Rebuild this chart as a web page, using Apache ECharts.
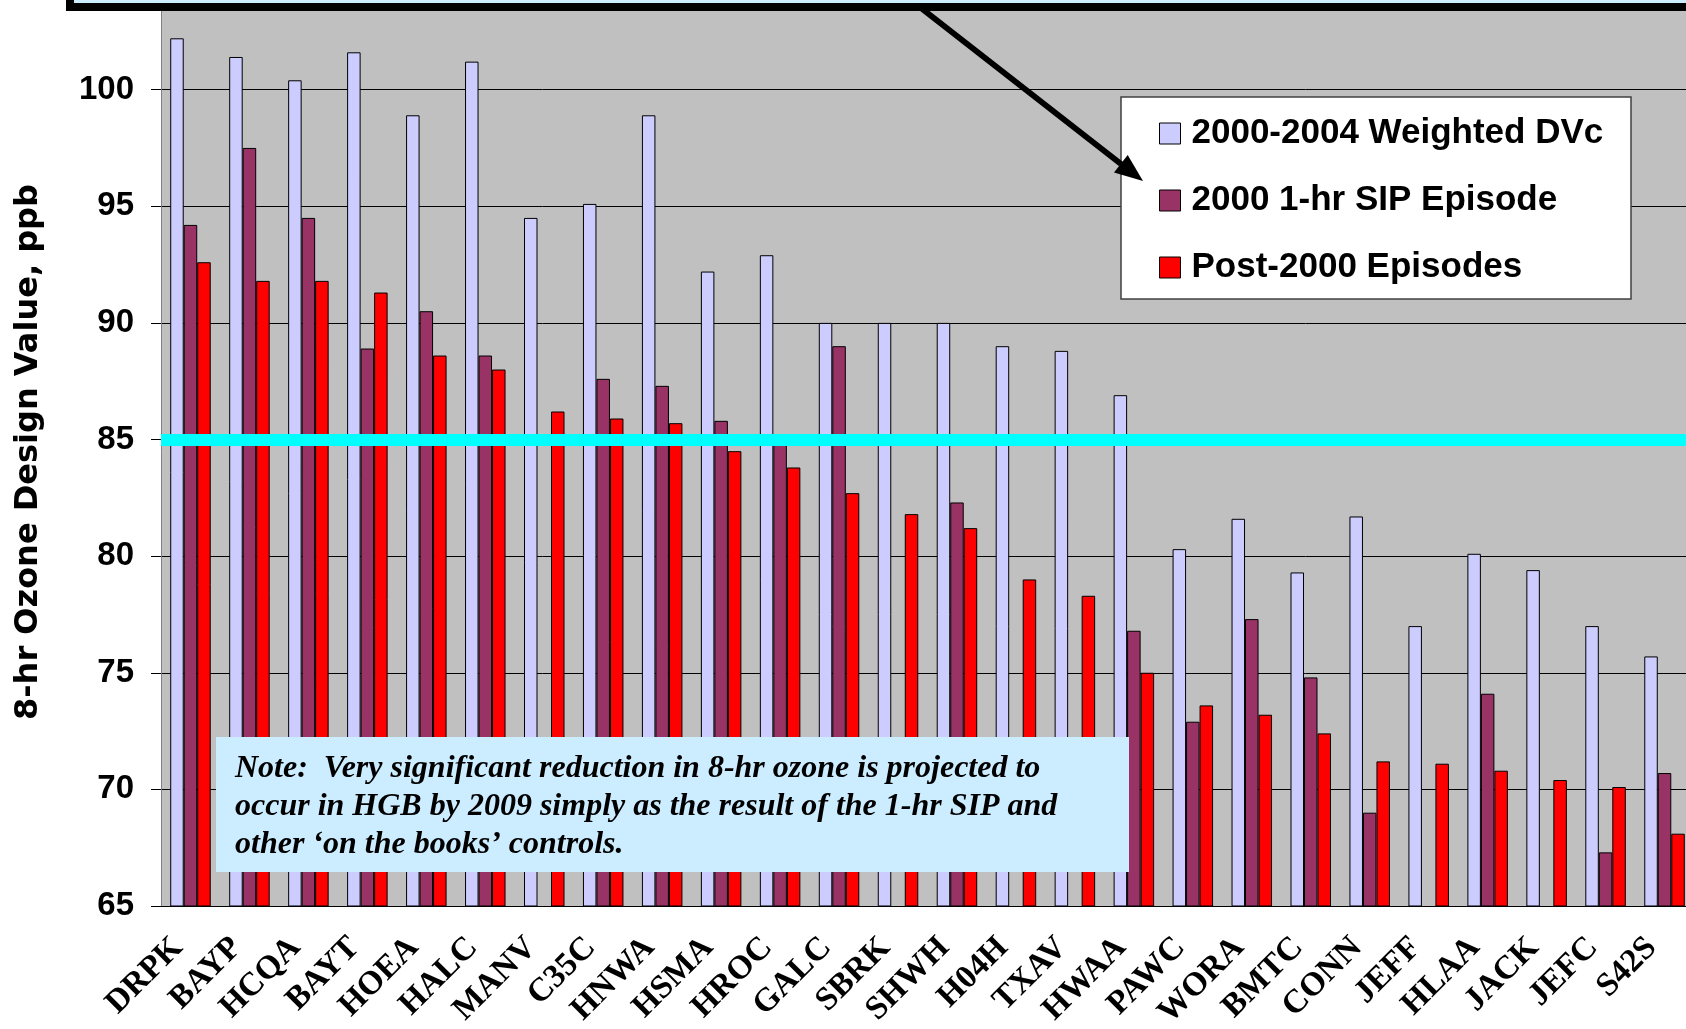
<!DOCTYPE html>
<html>
<head>
<meta charset="utf-8">
<script src="https://cdn.jsdelivr.net/npm/echarts@6/dist/echarts.min.js"></script>
<style>
  html, body { margin: 0; padding: 0; background: #fff; }
  #chart { width: 1686px; height: 1029px; }
</style>
</head>
<body>
<div id="chart"></div>
<script>
// monitoring sites, sorted as in the original slide
var sites = ['DRPK','BAYP','HCQA','BAYT','HOEA','HALC','MANV','C35C','HNWA','HSMA','HROC','GALC','SBRK',
             'SHWH','H04H','TXAV','HWAA','PAWC','WORA','BMTC','CONN','JEFF','HLAA','JACK','JEFC','S42S']
var seriesNames = ['2000-2004 Weighted DVc', '2000 1-hr SIP Episode', 'Post-2000 Episodes']
// 8-hr ozone design values, ppb (null = no bar for that site)
var weightedDVc = [102.2, 101.4, 100.4, 101.6, 98.9, 101.2, 94.5, 95.1, 98.9, 92.2, 92.9, 90.0, 90.0,
                   90.0, 89.0, 88.8, 86.9, 80.3, 81.6, 79.3, 81.7, 77.0, 80.1, 79.4, 77.0, 75.7]
var sipEpisode = [94.2, 97.5, 94.5, 88.9, 90.5, 88.6, null, 87.6, 87.3, 85.8, 85.0, 89.0, null,
                  82.3, null, null, 76.8, 72.9, 77.3, 74.8, 69.0, null, 74.1, null, 67.3, 70.7]
var post2000 = [92.6, 91.8, 91.8, 91.3, 88.6, 88.0, 86.2, 85.9, 85.7, 84.5, 83.8, 82.7, 81.8,
                81.2, 79.0, 78.3, 75.0, 73.6, 73.2, 72.4, 71.2, 71.1, 70.8, 70.4, 70.1, 68.1]
var yTicks = { min: 65, max: 105, step: 5 }
var standard = 85 // 8-hr standard line
var noteLines = [
  'Note:  Very significant reduction in 8-hr ozone is projected to',
  'occur in HGB by 2009 simply as the result of the 1-hr SIP and',
  'other \u2018on the books\u2019 controls.'
]

var chart = echarts.init(document.getElementById('chart'))

function barSeries(name, data, color) {
  return {
    name: name,
    type: 'bar',
    barWidth: 13.5,
    barGap: '0%',
    itemStyle: { color: color, borderColor: '#000', borderWidth: 1 },
    data: data
  }
}

chart.setOption({
  animation: false,
  backgroundColor: '#fff',
  grid: {
    left: 161, top: -27, width: 1533, height: 933,
    outerBoundsMode: 'none', containLabel: false,
    show: true, backgroundColor: '#C0C0C0', borderWidth: 0
  },
  legend: {
    orient: 'vertical',
    left: 1121, top: 97,
    data: seriesNames,
    padding: [19, 20, 16, 38],
    itemGap: 32, itemWidth: 21, itemHeight: 21,
    icon: 'rect',
    itemStyle: { borderColor: '#000', borderWidth: 1 },
    textStyle: {
      fontFamily: 'Liberation Sans', fontWeight: 'bold', fontSize: 35, color: '#000',
      padding: [0, 0, 0, 6]
    },
    z: 6
  },
  xAxis: {
    type: 'category',
    data: sites,
    axisLine: { lineStyle: { color: '#000', width: 1 } },
    axisTick: { length: 10, lineStyle: { color: '#000' } },
    axisLabel: {
      interval: 0, rotate: 45, margin: 24, padding: [0, 18, 0, 0],
      fontFamily: 'Liberation Serif', fontWeight: 'bold', fontSize: 33, color: '#000'
    }
  },
  yAxis: {
    type: 'value',
    min: yTicks.min, max: yTicks.max, interval: yTicks.step,
    axisLine: { show: true, lineStyle: { color: '#808080' } },
    axisTick: { show: true, length: 10, lineStyle: { color: '#000' } },
    axisLabel: {
      margin: 27,
      fontFamily: 'Liberation Sans', fontWeight: 'bold', fontSize: 33, color: '#000'
    },
    splitLine: { lineStyle: { color: '#000', width: 1 } }
  },
  series: [
    barSeries(seriesNames[0], weightedDVc, '#CCCCFF'),
    barSeries(seriesNames[1], sipEpisode, '#993366'),
    barSeries(seriesNames[2], post2000, '#FF0000'),
    {
      name: 'standard',
      type: 'line',
      data: [],
      z: 8,
      markLine: {
        silent: true,
        symbol: 'none',
        label: { show: false },
        lineStyle: { color: '#00FFFF', width: 12, type: 'solid' },
        data: [{ yAxis: standard }]
      }
    }
  ],
  graphic: [
    // white legend box
    {
      type: 'rect', z: 5,
      shape: { x: 1121, y: 97, width: 510, height: 202 },
      style: { fill: '#fff', stroke: '#404040', lineWidth: 1.5 }
    },
    // title box cut off at the top
    {
      type: 'rect', z: 20,
      shape: { x: 70, y: -60, width: 1700, height: 67 },
      style: { fill: '#CCECFF', stroke: '#000', lineWidth: 8 }
    },
    // arrow pointing at the legend
    {
      type: 'line', z: 21,
      shape: { x1: 921, y1: 8, x2: 1121, y2: 164 },
      style: { stroke: '#000', lineWidth: 6 }
    },
    {
      type: 'polygon', z: 21,
      shape: { points: [[1143, 181], [1114, 172.5], [1127.7, 155]] },
      style: { fill: '#000' }
    },
    // note box
    {
      type: 'rect', z: 20,
      shape: { x: 216, y: 737, width: 913, height: 135 },
      style: { fill: '#CCECFF' }
    },
    {
      type: 'text', z: 21,
      x: 235, y: 750,
      style: {
        text: noteLines.join('\n'),
        fontFamily: 'Liberation Serif', fontStyle: 'italic', fontWeight: 'bold', fontSize: 32,
        lineHeight: 38, fill: '#000', textAlign: 'left', textVerticalAlign: 'top'
      }
    },
    // y axis title
    {
      type: 'text', z: 21,
      x: 29, y: 452, rotation: Math.PI / 2,
      style: {
        text: '8-hr Ozone Design Value, ppb',
        fontFamily: 'DejaVu Sans', fontWeight: 'bold', fontSize: 32,
        fill: '#000', textAlign: 'center', textVerticalAlign: 'middle'
      }
    }
  ]
})
</script>
</body>
</html>
